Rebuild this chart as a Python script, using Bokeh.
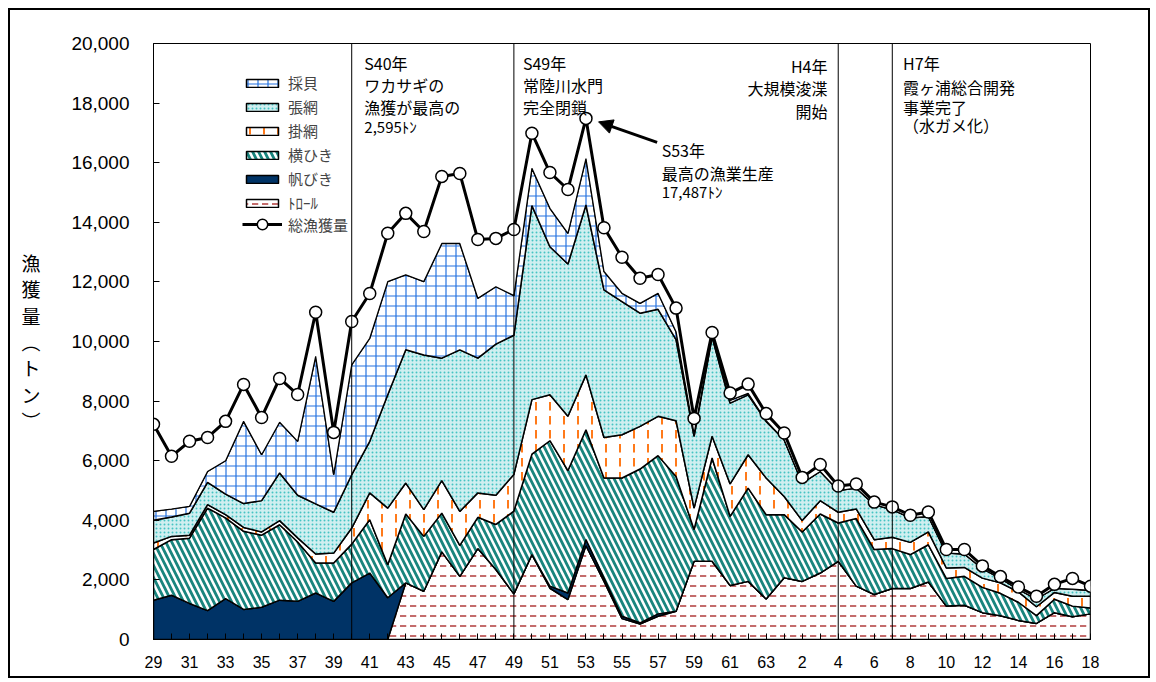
import numpy as np
from bokeh.plotting import figure
from bokeh.models import (Range1d, FixedTicker, NumeralTickFormatter, Span, Label,
                          Arrow, NormalHead, Legend, LegendItem)
from bokeh.embed import file_html
from bokeh.resources import INLINE

# ---- data (tonnes), Showa 29 .. Heisei 18 ----
year_labels = [str(y) for y in range(29, 64)] + [str(y) for y in range(1, 19)]

trawl = [0, 0, 0, 0, 0, 0, 0, 0, 0, 0, 0, 0, 0, 0,
         1900, 1620, 2940, 2120, 3050, 2350, 1530, 2850, 1720, 1340, 3150, 1950,
         700, 520, 780, 950, 2625, 2625, 1810, 1950, 1360, 2070, 1950, 2230, 2625,
         1790, 1510, 1710, 1710, 1930, 1120, 1150, 900, 800, 640, 540, 900, 760, 860]
sail = [1320, 1485, 1210, 970, 1370, 1010, 1080, 1320, 1280, 1560, 1280, 1900, 2230, 1400,
        0, 0, 0, 0, 0, 0, 0, 0, 70, 220, 200, 120, 80, 40, 80, 0,
        0, 0, 0, 0, 0, 0, 0, 0, 0, 0, 0, 0, 0, 0, 0, 0, 0, 0, 0, 0, 0, 0, 0]
yoko = [1700, 1865, 2190, 3440, 2710, 2620, 2420, 2530, 1990, 1010, 1290, 1300, 1790, 1110,
        2310, 1840, 1300, 1040, 1050, 1510, 2780, 3370, 4880, 4110, 3690, 3350,
        4640, 5160, 5310, 4520, 1065, 3465, 2320, 3130, 2830, 2120, 1660, 1980, 1285,
        2270, 1510, 1340, 1140, 1250, 930, 970, 850, 750, 610, 260, 450, 360, 200]
kake = [220, 110, 100, 115, 110, 130, 110, 140, 140, 300, 330, 540, 900, 1900,
        1040, 900, 1090, 1140, 820, 980, 1230, 1830, 1540, 1820, 1840, 1360,
        1450, 1430, 1320, 1870, 720, 730, 1090, 1120, 1230, 610, 380, 450, 360,
        320, 330, 380, 410, 430, 350, 300, 310, 350, 350, 300, 230, 330, 390]
hari = [760, 650, 740, 745, 690, 800, 1050, 1600, 1430, 1680, 1370, 1790, 1730, 3800,
        4470, 5190, 4110, 5420, 4520, 5070, 4670, 6510, 4970, 5110, 5700, 4950,
        4470, 3800, 3590, 2720, 2410, 3330, 2710, 2010, 1900, 1900, 1260, 980, 730,
        700, 1170, 930, 820, 520, 500, 450, 320, 150, 80, 260, 140, 240, 200]
saibai = [300, 270, 230, 370, 1120, 2760, 1540, 1700, 1810, 4950, 1260, 3690, 3460, 3800,
          2520, 2460, 3850, 3570, 2010, 1930, 1330, 1250, 1290, 1030, 1560, 620,
          280, 330, 540, 270, 80, 50, 100, 50, 20, 0, 0, 0, 0,
          0, 0, 0, 0, 0, 0, 0, 0, 0, 0, 0, 0, 0, 0]
total = [7220, 6150, 6650, 6780, 7320, 8560, 7450, 8760, 8220, 10980, 6950, 10670, 11610, 13630,
         14300, 13690, 15540, 15640, 13420, 13460, 13760, 16990, 15670, 15100, 17487, 13820,
         12830, 12120, 12250, 11120, 7420, 10300, 8270, 8570, 7580, 6930, 5440, 5870, 5150,
         5220, 4610, 4450, 4170, 4280, 3020, 3020, 2470, 2110, 1760, 1450, 1850, 2050, 1790]

JP = "Noto Sans CJK JP"
NUM = "Liberation Sans"

x = np.arange(len(year_labels))

p = figure(frame_width=937, frame_height=596,
           min_border_left=143, min_border_right=58, min_border_top=33, min_border_bottom=37,
           x_range=Range1d(0, len(x) - 1), y_range=Range1d(0, 20000),
           output_backend="svg", toolbar_location=None, tools="")
p.styles = {"border": "2px solid black", "margin": "8px"}
p.xgrid.visible = False
p.ygrid.visible = False
p.outline_line_color = "black"
p.outline_line_width = 1
p.background_fill_color = "white"
p.border_fill_color = "white"

layers = [trawl, sail, yoko, kake, hari, saibai]
styles = [
    dict(fill_color="white", hatch_pattern="horizontal_dash", hatch_color="#b03a3a",
         hatch_scale=10, hatch_weight=1.5),
    dict(fill_color="#003366"),
    dict(fill_color="white", hatch_pattern="left_diagonal_line", hatch_color="#1a857e",
         hatch_scale=12, hatch_weight=2.8),
    dict(fill_color="white", hatch_pattern="vertical_dash", hatch_color="#ff7a1a",
         hatch_scale=14, hatch_weight=2),
    dict(fill_color="#cfeff0", hatch_pattern="dot", hatch_color="#45c3c3",
         hatch_scale=4, hatch_weight=1.5),
    dict(fill_color="white", hatch_pattern="cross", hatch_color="#2572e0",
         hatch_scale=10, hatch_weight=1.2),
]
cum = np.cumsum(np.array(layers, dtype=float), axis=0)
renderers = []
for i, st in enumerate(styles):
    top = cum[i]
    bot = cum[i - 1] if i > 0 else np.zeros(len(x))
    xs = np.concatenate([x, x[::-1]])
    ys = np.concatenate([top, bot[::-1]])
    r = p.patch(xs, ys, line_color="black", line_width=1.5, **st)
    renderers.append(r)

# unlabelled remainder up to the total
xs = np.concatenate([x, x[::-1]])
ys = np.concatenate([np.array(total, dtype=float), cum[-1][::-1]])
p.patch(xs, ys, fill_color="white", line_color="black", line_width=1.2)

r_line = p.line(x, total, line_color="black", line_width=3)
r_pts = p.scatter(x, total, marker="circle", size=12, fill_color="white",
                  line_color="black", line_width=1.5)

# vertical event lines
for loc in [11, 20, 38, 41]:
    p.add_layout(Span(location=loc, dimension="height", line_color="black", line_width=1))

# axes
p.xaxis.ticker = FixedTicker(ticks=list(x))
p.xaxis.major_label_overrides = {int(i): (year_labels[i] if i % 2 == 0 else "") for i in x}
p.xaxis.major_tick_in = 6
p.xaxis.major_tick_out = 0
p.xaxis.minor_tick_line_color = None
p.xaxis.major_label_standoff = 16
p.xaxis.major_label_text_font = NUM
p.xaxis.major_label_text_font_size = "16px"
p.xaxis.major_label_text_color = "black"
p.xaxis.axis_line_color = "black"

p.yaxis.ticker = FixedTicker(ticks=list(range(0, 20001, 2000)))
p.yaxis.formatter = NumeralTickFormatter(format="0,0")
p.yaxis.major_tick_in = 6
p.yaxis.major_tick_out = 0
p.yaxis.minor_tick_line_color = None
p.yaxis.major_label_standoff = 24
p.yaxis.major_label_text_font = NUM
p.yaxis.major_label_text_font_size = "19px"
p.yaxis.major_label_text_color = "black"
p.yaxis.axis_line_color = "black"

# vertical y-axis title, one character per line
p.yaxis.axis_label = "\n".join(["漁", "獲", "量", "︵", "ト", "ン", "︶"])
p.yaxis.axis_label_orientation = "horizontal"
p.yaxis.axis_label_text_font = JP
p.yaxis.axis_label_text_font_size = "19px"
p.yaxis.axis_label_text_font_style = "normal"
p.yaxis.axis_label_text_line_height = 0.98
p.yaxis.axis_label_text_color = "black"
p.yaxis.axis_label_standoff = 28

def block(x0, lines, align="left"):
    for txt, yv, fs in lines:
        p.add_layout(Label(x=x0, y=yv, text=txt, text_font=JP, text_font_size=fs,
                           text_align=align, text_baseline="middle", text_color="black"))

block(11.7, [("S40年", 19350, "16px"), ("ワカサギの", 18610, "16px"),
             ("漁獲が最高の", 17880, "16px"), ("2,595ﾄﾝ", 17200, "15px")])
block(20.5, [("S49年", 19350, "16px"), ("常陸川水門", 18610, "16px"),
             ("完全閉鎖", 17880, "16px")])
block(28.2, [("S53年", 16430, "16px"), ("最高の漁業生産", 15660, "16px"),
             ("17,487ﾄﾝ", 15030, "15px")])
block(37.4, [("H4年", 19250, "16px"), ("大規模浚渫", 18500, "16px"),
             ("開始", 17750, "16px")], align="right")
block(41.6, [("H7年", 19330, "16px"), ("霞ヶ浦総合開発", 18550, "16px"),
             ("事業完了", 17880, "16px"), ("（水ガメ化）", 17260, "16px")])

p.add_layout(Arrow(end=NormalHead(size=14, fill_color="black", line_color="black"),
                   x_start=27.95, y_start=16680, x_end=24.7, y_end=17370,
                   line_width=3, line_color="black"))

items = [
    LegendItem(label="採貝", renderers=[renderers[5]]),
    LegendItem(label="張網", renderers=[renderers[4]]),
    LegendItem(label="掛網", renderers=[renderers[3]]),
    LegendItem(label="横ひき", renderers=[renderers[2]]),
    LegendItem(label="帆びき", renderers=[renderers[1]]),
    LegendItem(label="ﾄﾛｰﾙ", renderers=[renderers[0]]),
]
legend = Legend(items=items, location=(89, 426), border_line_color=None,
                background_fill_alpha=0, padding=0, margin=0,
                glyph_width=40, glyph_height=10, label_height=10, spacing=3,
                label_standoff=6, label_text_font=JP, label_text_font_size="15px")
p.add_layout(legend)

legend2 = Legend(items=[LegendItem(label="総漁獲量", renderers=[r_line, r_pts])],
                 location=(89, 402), border_line_color=None,
                 background_fill_alpha=0, padding=0, margin=0,
                 glyph_width=40, glyph_height=26, label_height=26,
                 label_standoff=6, label_text_font=JP, label_text_font_size="15px")
p.add_layout(legend2)

open("out.html", "w").write(file_html(p, INLINE))
